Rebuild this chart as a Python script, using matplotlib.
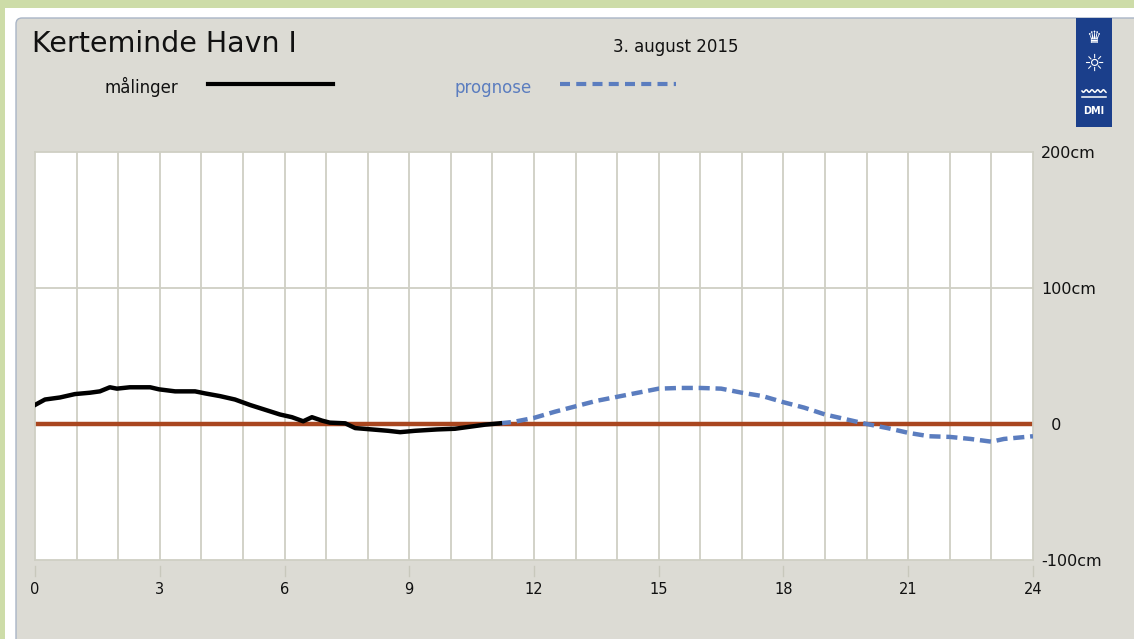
import numpy as np
import matplotlib.pyplot as plt
from matplotlib.patches import Rectangle, FancyBboxPatch

# Data: water level (cm) against hour of the day
maal_hours = [0, 0.24, 0.6, 0.96, 1.32, 1.56, 1.8, 1.97, 2.28, 2.77, 2.98, 3.37, 3.85,
              4.09, 4.45, 4.81, 5.17, 5.53, 5.89, 6.18, 6.45, 6.66, 6.9, 7.09, 7.46,
              7.7, 8.1, 8.49, 8.78, 9.14, 9.67, 10.1, 10.46, 10.82, 11.18]
maal_cm = [14, 18, 19.5, 22, 23, 24, 27, 26, 27, 27, 25.5, 24, 24,
           22.5, 20.5, 18, 14, 10.5, 7, 5, 2, 5, 2.5, 1, 0.5,
           -3, -4, -5, -6, -5, -4, -3.5, -2, -0.5, 0.5]

prog_hours = [11.18, 11.5, 12, 12.5, 13, 13.5, 14, 14.5, 15, 15.5, 16, 16.5, 17,
              17.5, 18, 18.5, 19, 19.5, 20, 20.5, 21, 21.5, 22, 22.5, 23, 23.3, 24]
prog_cm = [0.5, 1.5, 4.5, 9, 13, 17, 20, 23, 26, 26.5, 26.5, 26, 23,
           20.5, 16, 12, 7, 3.5, 0, -3, -6.5, -9, -9.5, -11, -13, -11, -9]

x_ticks = [0, 3, 6, 9, 12, 15, 18, 21, 24]
y_ticks = [200, 100, 0, -100]
y_labels = ['200cm', '100cm', '  0', '-100cm']

W, H = 1134, 639
fig = plt.figure(figsize=(W / 100, H / 100), dpi=100)
fig.patch.set_facecolor('#cddca8')

# background in pixel coordinates
bg = fig.add_axes([0, 0, 1, 1], zorder=0)
bg.set_xlim(0, W)
bg.set_ylim(H, 0)
bg.axis('off')
bg.add_patch(Rectangle((5, 8), W, H, facecolor='white', edgecolor='none'))
bg.add_patch(FancyBboxPatch((16, 18), W, H, boxstyle='round,pad=0,rounding_size=6',
                            facecolor='#dcdbd4', edgecolor='#a9b5c6', lw=1))

bg.text(32, 52, 'Kerteminde Havn I', fontsize=20.5, va='baseline', color='#111111')
bg.text(613, 52, '3. august 2015', fontsize=12, va='baseline', color='#111111')
bg.text(104, 93, 'målinger', fontsize=12, va='baseline', color='#111111')
bg.plot([208, 333], [84, 84], color='black', lw=3)
bg.text(455, 93, 'prognose', fontsize=12, va='baseline', color='#5b7dbf')
bg.plot([560, 676], [84, 84], color='#5b7dbf', lw=3, dashes=(2.4, 1.5))

# DMI logo
bg.add_patch(Rectangle((1076, 18), 36, 109, facecolor='#1b3f8b', edgecolor='none'))
bg.text(1094, 38, '♛', color='white', fontsize=12, ha='center', va='center')
bg.text(1094, 64, '☼', color='white', fontsize=17, ha='center', va='center')
wx = np.linspace(1082, 1106, 30)
bg.plot(wx, 91 + 1.3 * np.sin((wx - 1082) * 1.1), color='white', lw=1.1)
bg.plot([1082, 1106], [97, 97], color='white', lw=1.1)
bg.text(1094, 111, 'DMI', color='white', fontsize=7, fontweight='bold',
        ha='center', va='center')

# main chart
ax = fig.add_axes([35 / W, 1 - 560 / H, (1033 - 35) / W, (560 - 152) / H], zorder=1)
ax.set_facecolor('white')
ax.set_xlim(0, 24)
ax.set_ylim(-100, 200)

for h in range(1, 24):
    ax.axvline(h, color='#cfcfc4', lw=1.3, zorder=1)
ax.axhline(100, color='#cfcfc4', lw=1.3, zorder=1)
for s in ax.spines.values():
    s.set_color('#cfcfc4')
    s.set_linewidth(1.3)

ax.axhline(0, color='#a9461f', lw=3.2, zorder=2)
ax.plot(maal_hours, maal_cm, color='black', lw=3.2, zorder=4, solid_joinstyle='round')
ax.plot(prog_hours, prog_cm, color='#5b7dbf', lw=3.2, dashes=(2.5, 1.3), zorder=3)

ax.yaxis.tick_right()
ax.set_yticks(y_ticks)
ax.set_yticklabels(y_labels, fontsize=11.5, color='#111111')
ax.tick_params(axis='y', length=0, pad=6)

ax.set_xticks(x_ticks)
ax.set_xticklabels([str(t) for t in x_ticks], fontsize=10.5, color='#111111')
ax.tick_params(axis='x', length=0, pad=16)
# small tick marks below the plot
for t in x_ticks:
    ax.plot([t, t], [-0.015, -0.04], color='#c8c8bc', lw=1,
            transform=ax.get_xaxis_transform(), clip_on=False)

fig.savefig('out.png', dpi=100, facecolor=fig.get_facecolor())
